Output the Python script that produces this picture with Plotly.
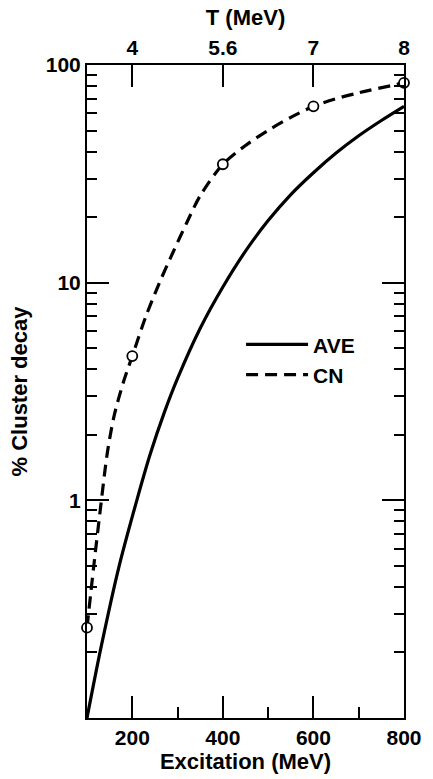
import plotly.graph_objects as go

# Excitation energy (MeV) and percentage of cluster decay
ave_excitation = [100, 130, 170, 210, 240, 270, 300, 350, 400, 450, 500, 550, 600, 650, 700, 750, 800]
ave_percent = [0.1, 0.2065, 0.49, 1.0, 1.64, 2.51, 3.63, 6.17, 9.55, 13.96, 19.28, 25.4, 32.0, 39.4, 47.3, 55.6, 64.6]

cn_excitation = [100, 115, 130, 145, 160, 180, 200, 230, 260, 290, 320, 350, 400, 450, 500, 550, 600, 650, 700, 800]
cn_percent = [0.26, 0.5, 0.93, 1.66, 2.45, 3.47, 4.6, 7.0, 10.0, 13.8, 18.8, 25.1, 35, 42.7, 50.1, 57.5, 64.6, 70.0, 74.5, 82.8]

# Computed CN points (open circles)
cn_pts_excitation = [100, 200, 400, 600, 800]
cn_pts_percent = [0.26, 4.6, 35, 64.6, 82.8]

# Axis ticks
x_ticks = [200, 400, 600, 800]
x_minor = [300, 500, 700]
t_ticks = [200, 400, 600, 800]
t_labels = ["4", "5.6", "7", "8"]
y_ticks = [1, 10, 100]
y_labels = ["1", "10", "100"]
y_minor = [m * d for d in (0.1, 1, 10) for m in range(2, 10)]

FONT = "Liberation Sans, Arial, Helvetica, sans-serif"
bold = dict(family=FONT, size=21, color="black", weight="bold")
title_font = dict(family=FONT, size=22, color="black", weight="bold")

fig = go.Figure()
fig.add_trace(go.Scatter(
    x=ave_excitation, y=ave_percent, mode="lines", name="AVE",
    line=dict(color="black", width=3.2, shape="spline", smoothing=0.8),
))
fig.add_trace(go.Scatter(
    x=cn_excitation, y=cn_percent, mode="lines", name="CN",
    line=dict(color="black", width=3.2, dash="12px,7px", shape="spline",
              smoothing=0.8),
))
fig.add_trace(go.Scatter(
    x=cn_pts_excitation, y=cn_pts_percent, mode="markers", showlegend=False,
    marker=dict(symbol="circle", size=10, color="white",
                line=dict(color="black", width=1.8)),
    cliponaxis=False,
))
# carries the temperature axis along the top
fig.add_trace(go.Scatter(x=[None], y=[None], xaxis="x2", showlegend=False,
                         hoverinfo="skip"))

axis_common = dict(
    showline=True, linecolor="black", linewidth=2, showgrid=False,
    zeroline=False, ticks="inside", ticklen=22, tickwidth=1.6,
    tickcolor="black", tickfont=bold,
)

fig.update_layout(
    width=433, height=779,
    margin=dict(l=87, r=29, t=65, b=61),
    paper_bgcolor="white", plot_bgcolor="white",
    font=bold,
    showlegend=True,
    legend=dict(x=0.486, y=0.603, xanchor="left", yanchor="top",
                bgcolor="rgba(0,0,0,0)", font=bold, itemwidth=62,
                tracegroupgap=0),
    xaxis=dict(
        **axis_common, range=[100, 800], tickvals=x_ticks,
        minor=dict(tickvals=x_minor, ticks="inside", ticklen=11,
                   tickwidth=1.6, tickcolor="black"),
        title=dict(text="Excitation (MeV)", font=title_font, standoff=2),
    ),
    xaxis2=dict(
        **axis_common, range=[100, 800], overlaying="x", side="top",
        anchor="y", tickvals=t_ticks, ticktext=t_labels,
        title=dict(text="T (MeV)", font=title_font, standoff=4),
    ),
    yaxis=dict(
        **axis_common, type="log", range=[-1, 2], mirror="ticks",
        tickvals=y_ticks, ticktext=y_labels,
        minor=dict(tickvals=y_minor, ticks="inside", ticklen=10,
                   tickwidth=1.6, tickcolor="black"),
        title=dict(text="% Cluster decay", font=title_font, standoff=12),
    ),
)

fig.write_html("out.html")
